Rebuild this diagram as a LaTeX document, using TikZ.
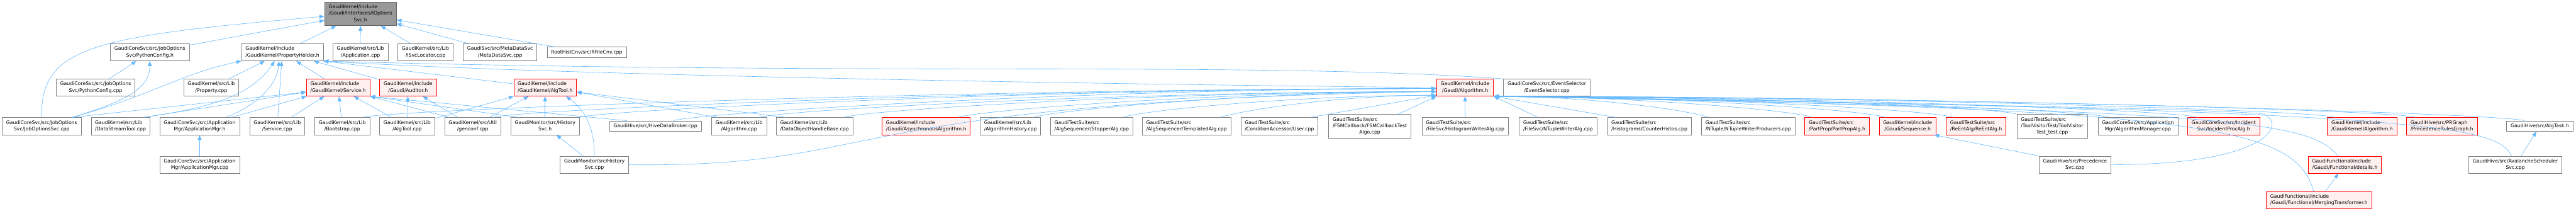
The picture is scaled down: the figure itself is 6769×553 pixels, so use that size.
\documentclass[tikz,border=0pt]{standalone}
\usepackage{fontspec}
\setmainfont{DejaVu Sans}
\usetikzlibrary{arrows.meta}

\definecolor{edgeblue}{HTML}{63B8FF}
\definecolor{boxgray}{HTML}{808080}
\definecolor{rootfill}{HTML}{999999}
\definecolor{rootdraw}{HTML}{666666}
\definecolor{cutfill}{HTML}{FFF0F0}
\definecolor{cutdraw}{HTML}{FF0000}

% two / three line labels: upper lines flush left, last line centred
\newcommand{\twol}[2]{\begin{tabular}{@{}l@{}}#1\\\multicolumn{1}{@{}c@{}}{#2}\end{tabular}}
\newcommand{\threel}[3]{\begin{tabular}{@{}l@{}}#1\\#2\\\multicolumn{1}{@{}c@{}}{#3}\end{tabular}}

\begin{document}
\begin{tikzpicture}[
  x=1pt, y=1pt,
  font=\fontsize{12.8}{17}\selectfont,
  srcfile/.style={rectangle, draw=boxgray, fill=white, line width=1.1pt,
                  inner xsep=10.5pt, inner ysep=5.5pt, minimum height=27.5pt},
  cutfile/.style={srcfile, draw=cutdraw, fill=cutfill},
  rootfile/.style={srcfile, draw=rootdraw, fill=rootfill},
  incl/.style={draw=edgeblue, line width=1pt, -{Triangle[length=13pt,width=10pt]}}
]
\useasboundingbox (0,0) rectangle (6769,-553);

% --- Root header ---
\node[rootfile] (root) at (947.3,-36.2) {\threel{GaudiKernel/include}{/Gaudi/Interfaces/IOptions}{Svc.h}};

% --- Row 1 ---
\node[srcfile] (pyconfh)    at (393.7,-137.2)  {\twol{GaudiCoreSvc/src/JobOptions}{Svc/PythonConfig.h}};
\node[srcfile] (propholder) at (742,-137.2)    {\twol{GaudiKernel/include}{/GaudiKernel/PropertyHolder.h}};
\node[srcfile] (appcpp)     at (947.2,-137.2)  {\twol{GaudiKernel/src/Lib}{/Application.cpp}};
\node[srcfile] (svcloc)     at (1117.9,-137.2) {\twol{GaudiKernel/src/Lib}{/ISvcLocator.cpp}};
\node[srcfile] (metadata)   at (1314,-137.2)   {\twol{GaudiSvc/src/MetaDataSvc}{/MetaDataSvc.cpp}};
\node[srcfile] (rfilecnv)   at (1541.8,-137.2) {RootHistCnv/src/RFileCnv.cpp};

% --- Row 2 ---
\node[srcfile] (pyconfcpp) at (251.2,-229.8)  {\twol{GaudiCoreSvc/src/JobOptions}{Svc/PythonConfig.cpp}};
\node[srcfile] (propcpp)   at (555,-229.8)    {\twol{GaudiKernel/src/Lib}{/Property.cpp}};
\node[cutfile] (serviceh)  at (888.5,-229.8)  {\twol{GaudiKernel/include}{/GaudiKernel/Service.h}};
\node[cutfile] (auditorh)  at (1072.3,-229.8) {\twol{GaudiKernel/include}{/Gaudi/Auditor.h}};
\node[cutfile] (algtoolh)  at (1432.4,-229.8) {\twol{GaudiKernel/include}{/GaudiKernel/AlgTool.h}};
\node[cutfile] (galgh)     at (3849.8,-229.8) {\twol{GaudiKernel/include}{/Gaudi/Algorithm.h}};
\node[srcfile] (eventsel)  at (4064.5,-229.8) {\twol{GaudiCoreSvc/src/EventSelector}{/EventSelector.cpp}};

% --- Row 3 ---
\node[srcfile] (jobsvc)        at (109.6,-331)  {\twol{GaudiCoreSvc/src/JobOptions}{Svc/JobOptionsSvc.cpp}};
\node[srcfile] (datastream)    at (316.6,-331)  {\twol{GaudiKernel/src/Lib}{/DataStreamTool.cpp}};
\node[srcfile] (appmgrh)       at (524.6,-331)  {\twol{GaudiCoreSvc/src/Application}{Mgr/ApplicationMgr.h}};
\node[srcfile] (servicecpp)    at (728.4,-331)  {\twol{GaudiKernel/src/Lib}{/Service.cpp}};
\node[srcfile] (bootstrap)     at (899.4,-331)  {\twol{GaudiKernel/src/Lib}{/Bootstrap.cpp}};
\node[srcfile] (algtoolcpp)    at (1069.8,-331) {\twol{GaudiKernel/src/Lib}{/AlgTool.cpp}};
\node[srcfile] (genconf)       at (1242.2,-331) {\twol{GaudiKernel/src/Util}{/genconf.cpp}};
\node[srcfile] (historyh)      at (1432.4,-331) {\twol{GaudiMonitor/src/History}{Svc.h}};
\node[srcfile] (hivebroker)    at (1722.1,-331) {GaudiHive/src/HiveDataBroker.cpp};
\node[srcfile] (algcpp)        at (1942,-331)   {\twol{GaudiKernel/src/Lib}{/Algorithm.cpp}};
\node[srcfile] (dohb)          at (2140.5,-331) {\twol{GaudiKernel/src/Lib}{/DataObjectHandleBase.cpp}};
\node[cutfile] (asyncalg)      at (2433.7,-331) {\twol{GaudiKernel/include}{/Gaudi/AsynchronousAlgorithm.h}};
\node[srcfile] (alghist)       at (2655.1,-331) {\twol{GaudiKernel/src/Lib}{/AlgorithmHistory.cpp}};
\node[srcfile] (stopper)       at (2868.6,-331) {\twol{GaudiTestSuite/src}{/AlgSequencer/StopperAlg.cpp}};
\node[srcfile] (templated)     at (3117.9,-331) {\twol{GaudiTestSuite/src}{/AlgSequencer/TemplatedAlg.cpp}};
\node[srcfile] (user)          at (3361.9,-331) {\twol{GaudiTestSuite/src}{/ConditionAccessor/User.cpp}};
\node[srcfile] (fsm)           at (3599.4,-331) {\threel{GaudiTestSuite/src}{/FSMCallback/FSMCallbackTest}{Algo.cpp}};
\node[srcfile] (histwriter)    at (3850.1,-331) {\twol{GaudiTestSuite/src}{/FileSvc/HistogramWriterAlg.cpp}};
\node[srcfile] (ntuplewriter)  at (4094,-331)   {\twol{GaudiTestSuite/src}{/FileSvc/NTupleWriterAlg.cpp}};
\node[srcfile] (counterhistos) at (4334,-331)   {\twol{GaudiTestSuite/src}{/Histograms/CounterHistos.cpp}};
\node[srcfile] (ntupleprod)    at (4593.9,-331) {\twol{GaudiTestSuite/src}{/NTuple/NTupleWriterProducers.cpp}};
\node[cutfile] (partprop)      at (4827.2,-331) {\twol{GaudiTestSuite/src}{/PartProp/PartPropAlg.h}};
\node[cutfile] (sequenceh)     at (5012.5,-331) {\twol{GaudiKernel/include}{/Gaudi/Sequence.h}};
\node[cutfile] (reentalg)      at (5192.5,-331) {\twol{GaudiTestSuite/src}{/ReEntAlg/ReEntAlg.h}};
\node[srcfile] (toolvisitor)   at (5392.4,-331) {\threel{GaudiTestSuite/src}{/ToolVisitorTest/ToolVisitor}{Test\_test.cpp}};
\node[srcfile] (algmgr)        at (5617.9,-331) {\twol{GaudiCoreSvc/src/Application}{Mgr/AlgorithmManager.cpp}};
\node[cutfile] (incident)      at (5843,-331)   {\twol{GaudiCoreSvc/src/Incident}{Svc/IncidentProcAlg.h}};
\node[cutfile] (gkalgh)        at (6206.9,-331) {\twol{GaudiKernel/include}{/GaudiKernel/Algorithm.h}};
\node[cutfile] (prgraph)       at (6416.5,-331) {\twol{GaudiHive/src/PRGraph}{/PrecedenceRulesGraph.h}};
\node[srcfile] (algtask)       at (6674,-331)   {GaudiHive/src/AlgTask.h};

% --- Row 4 and 5 ---
\node[srcfile] (appmgrcpp)  at (524.6,-432.3)  {\twol{GaudiCoreSvc/src/Application}{Mgr/ApplicationMgr.cpp}};
\node[srcfile] (historycpp) at (1561.9,-432.3) {\twol{GaudiMonitor/src/History}{Svc.cpp}};
\node[srcfile] (precsvc)    at (5452.4,-432.3) {\twol{GaudiHive/src/Precedence}{Svc.cpp}};
\node[cutfile] (detailsh)   at (6161.6,-432.3) {\twol{GaudiFunctional/include}{/Gaudi/Functional/details.h}};
\node[srcfile] (avalanche)  at (6609.7,-432.3) {\twol{GaudiHive/src/AvalancheScheduler}{Svc.cpp}};
\node[cutfile] (merging)    at (6093.6,-525)   {\twol{GaudiFunctional/include}{/Gaudi/Functional/MergingTransformer.h}};

% --- Includes of the root header ---
\draw[incl] (pyconfh) -- (root);
\draw[incl] (jobsvc.north) .. controls (105,-120) and (250,-95) .. (root.184);
\draw[incl] (propholder) -- (root);
\draw[incl] (appcpp) -- (root);
\draw[incl] (svcloc) -- (root);
\draw[incl] (metadata) -- (root);
\draw[incl] (rfilecnv) -- (root);

% --- PythonConfig.h ---
\draw[incl] (pyconfcpp) -- (pyconfh);
\draw[incl] ([xshift=80pt]jobsvc.north) .. controls (340,-262) and (393,-230) .. (pyconfh.south);

% --- PropertyHolder.h ---
\draw[incl] ([xshift=80pt]jobsvc.north) .. controls (400,-250) and (470,-195) .. (propholder.south west);
\draw[incl] ([xshift=60pt]datastream.north) .. controls (560,-282) and (660,-250) .. ([xshift=-20pt]propholder.south);
\draw[incl] ([xshift=68pt]appmgrh.north) .. controls (680,-275) and (728,-220) .. ([xshift=-9pt]propholder.south);
\draw[incl] (propcpp) -- (propholder);
\draw[incl] (servicecpp) -- (propholder);
\draw[incl] (serviceh) -- (propholder);
\draw[incl] (auditorh) -- (propholder);
\draw[incl] (algtoolh) -- (propholder.south east);
\draw[incl] (eventsel.north west) .. controls (3300,-160) and (2300,-200) .. (propholder.south east);
\draw[incl] (galgh.west) .. controls (3000,-222) and (1500,-200) .. (propholder.south east);

% --- Service.h ---
\draw[incl] ([xshift=80pt]jobsvc.north) -- (serviceh.188);
\draw[incl] ([xshift=60pt]datastream.north) -- (serviceh.188);
\draw[incl] (appmgrh) -- (serviceh);
\draw[incl] (servicecpp) -- (serviceh);
\draw[incl] (bootstrap) -- (serviceh);
\draw[incl] (algtoolcpp) -- (serviceh);
\draw[incl] ([xshift=13pt]genconf.north west) -- (serviceh.south east);
\draw[incl] ([xshift=20pt]historyh.north west) -- (serviceh.south east);
\draw[incl] ([xshift=47pt]hivebroker.north west) -- (serviceh.south east);

% --- Auditor.h and AlgTool.h ---
\draw[incl] (algtoolcpp) -- (auditorh);
\draw[incl] (genconf) -- (auditorh);
\draw[incl] (algtoolcpp) -- (algtoolh);
\draw[incl] (genconf) -- (algtoolh);
\draw[incl] (historyh) -- (algtoolh);
\draw[incl] (historycpp.north) .. controls (1562,-340) and (1540,-290) .. ([xshift=55pt]algtoolh.south);
\draw[incl] ([xshift=15pt]algcpp.north west) -- (algtoolh.-8);
\draw[incl] ([xshift=25pt]dohb.north west) -- (algtoolh.-8);

% --- Lower levels ---
\draw[incl] (historycpp) -- (historyh);
\draw[incl] (appmgrcpp) -- (appmgrh);
\draw[incl] (precsvc.north west) -- ([xshift=70pt]sequenceh.south);
\draw[incl] (merging) -- (detailsh);
\draw[incl] (avalanche) -- (algtask);

% --- Gaudi/Algorithm.h, from the left ---
\draw[incl] ([xshift=-18pt]bootstrap.north east) .. controls +(60,20) and +(-1200,0) .. (galgh.182);
\draw[incl] ([xshift=-19pt]genconf.north east) .. controls +(60,20) and +(-1100,0) .. (galgh.182);
\draw[incl] (historyh.north east) .. controls +(60,20) and +(-1000,0) .. (galgh.182);
\draw[incl] ([xshift=-74pt]hivebroker.north east) .. controls +(60,20) and +(-900,0) .. (galgh.182);
\draw[incl] ([xshift=-19pt]algcpp.north east) .. controls +(60,20) and +(-800,0) .. (galgh.188);
\draw[incl] ([xshift=-24pt]dohb.north east) .. controls +(60,20) and +(-700,0) .. (galgh.188);
\draw[incl] ([xshift=-33pt]asyncalg.north east) .. controls +(60,20) and +(-550,0) .. (galgh.188);
\draw[incl] ([xshift=-20pt]alghist.north east) .. controls +(60,20) and +(-450,0) .. (galgh.188);
\draw[incl] ([xshift=-28pt]stopper.north east) .. controls +(60,20) and +(-350,0) .. (galgh.195);
\draw[incl] ([xshift=-28pt]templated.north east) .. controls +(60,20) and +(-250,0) .. (galgh.195);
\draw[incl] ([xshift=-21pt]user.north east) -- (galgh.195);
\draw[incl] ([xshift=-34pt]fsm.north east) -- (galgh.south west);
\draw[incl] (histwriter) -- (galgh);
\draw[incl] (historycpp.east) .. controls (2350,-440) and (2150,-270) .. (galgh.188);

% --- Gaudi/Algorithm.h, from the right ---
\draw[incl] ([xshift=50pt]ntuplewriter.north west) -- (galgh.south east);
\draw[incl] ([xshift=23pt]counterhistos.north west) -- (galgh.south east);
\draw[incl] ([xshift=20pt]ntupleprod.north west) .. controls +(-60,20) and +(250,0) .. (galgh.south east);
\draw[incl] ([xshift=22pt]partprop.north west) .. controls +(-60,20) and +(350,0) .. (galgh.south east);
\draw[incl] ([xshift=18pt]sequenceh.north west) .. controls +(-60,20) and +(450,0) .. (galgh.south east);
\draw[incl] ([xshift=20pt]reentalg.north west) .. controls +(-60,20) and +(500,0) .. (galgh.south east);
\draw[incl] (toolvisitor.north west) .. controls +(-60,20) and +(550,0) .. (galgh.south east);
\draw[incl] ([xshift=30pt]algmgr.north west) .. controls +(-60,20) and +(650,0) .. (galgh.south east);
\draw[incl] ([xshift=27pt]incident.north west) .. controls +(-60,20) and +(750,0) .. (galgh.south east);
\draw[incl] ([xshift=20pt]gkalgh.north west) .. controls +(-60,20) and +(900,0) .. (galgh.south east);
\draw[incl] ([xshift=25pt]prgraph.north west) .. controls +(-60,20) and +(1000,0) .. (galgh.south east);
\draw[incl] ([xshift=-40pt]algtask.north) .. controls +(-60,20) and +(1100,0) .. (galgh.south east);
\draw[incl] ([xshift=-10pt]avalanche.north) .. controls (6560,-330) and (6400,-290) .. (galgh.south east);
\draw[incl] ([xshift=-18pt]detailsh.north) .. controls (6070,-320) and (5900,-290) .. (galgh.south east);
\draw[incl] ([xshift=-14pt]merging.north) .. controls (6030,-330) and (5800,-285) .. (galgh.south east);
\draw[incl] (precsvc.east) .. controls (5950,-432) and (6010,-330) .. (5950,-300) .. controls (5900,-285) and (4600,-265) .. (galgh.south east);

\end{tikzpicture}
\end{document}
